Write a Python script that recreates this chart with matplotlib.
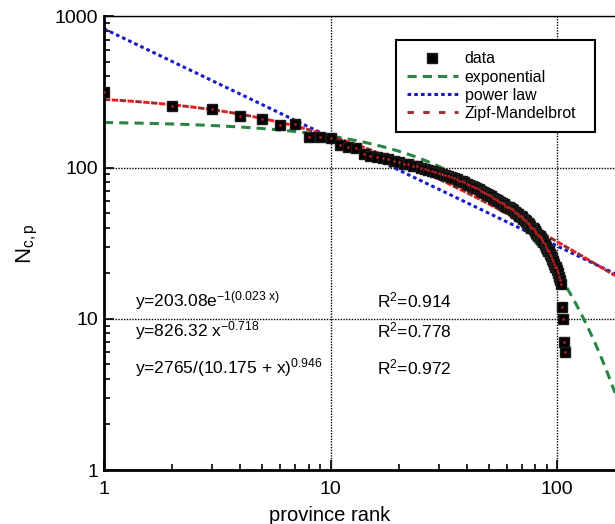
import numpy as np
import matplotlib
matplotlib.use('Agg')
import matplotlib.pyplot as plt

plt.rcParams['font.family'] = ['Liberation Sans', 'DejaVu Sans']
plt.rcParams['mathtext.fontset'] = 'custom'
plt.rcParams['mathtext.rm'] = 'Liberation Sans'
plt.rcParams['mathtext.it'] = 'Liberation Sans:italic'

# ── data ─────────────────────────────────────────────────
counts = [315, 255, 242, 219, 208, 192, 193, 160, 160, 156,
          141, 137, 134, 122, 120, 118, 116, 114, 111, 108,
          106, 105, 103, 102, 100, 98, 96, 95, 93, 92,
          90, 89, 88, 86, 85, 84, 82, 81, 80, 78,
          77, 75, 74, 73, 72, 70, 69, 68, 67, 66,
          65, 63, 62, 61, 60, 59, 58, 57, 56, 55,
          55, 54, 53, 52, 51, 50, 49, 48, 48, 47,
          46, 45, 44, 43, 42, 41, 40, 40, 39, 38,
          37, 36, 35, 35, 34, 33, 32, 31, 30, 29,
          28, 28, 27, 26, 25, 24, 23, 22, 22, 21,
          20, 19, 18, 17, 12, 10, 7, 6]
ranks = np.arange(1, len(counts) + 1)

# fitted model parameters (printed on the chart)
EXP_A, EXP_B = 203.08, 0.023
PL_A, PL_B = 826.32, 0.718
ZM_A, ZM_C, ZM_B = 2765.0, 10.175, 0.946

XMAX = 180
xs = np.logspace(0, np.log10(XMAX), 400)
y_exp = EXP_A * np.exp(-EXP_B * xs)
y_pl = PL_A * xs ** (-PL_B)
y_zm = ZM_A / (ZM_C + xs) ** ZM_B

# ── plot ─────────────────────────────────────────────────
fig = plt.figure(figsize=(6.15, 5.24), dpi=100)
ax = fig.add_axes([0.169, 0.103, 0.831, 0.866])
ax.set_xscale('log')
ax.set_yscale('log')

green = '#2a8544'
blue = '#1a1ac8'
brown = '#9c2e2e'

l_exp, = ax.plot(xs, y_exp, color=green, lw=2.2, ls=(0, (3, 2)), label='exponential')
l_pl, = ax.plot(xs, y_pl, color=blue, lw=2.2, ls=(0, (1.2, 1)), label='power law')
l_zm, = ax.plot(xs, y_zm, color=brown, lw=2.1, ls=(0, (2.2, 3.2)), label='Zipf-Mandelbrot')
ax.plot(xs, y_zm, color='#ee1c1c', lw=2.1, ls=(2.7, (2.2, 3.2)))

l_dat, = ax.plot(ranks, counts, ls='none', marker='s', ms=6.5,
                 color='black', mec='#1a1a1a', label='data', zorder=5)
ax.plot(ranks, counts, ls='none', marker='.', ms=2, color='#b02020', zorder=6)

ax.set_xlim(1, XMAX)
ax.set_ylim(1, 1000)

ax.set_xticks([1, 10, 100])
ax.set_xticklabels(['1', '10', '100'])
ax.set_yticks([1, 10, 100, 1000])
ax.set_yticklabels(['1', '10', '100', '1000'])
ax.tick_params(which='both', direction='in', labelsize=14, width=1.2)
ax.tick_params(which='major', length=7)
ax.tick_params(which='minor', length=4)
ax.tick_params(axis='x', pad=8)
ax.tick_params(axis='y', pad=4)

ax.grid(True, which='major', color='black', ls=(0, (1, 1)), lw=1)
ax.spines['right'].set_visible(False)
ax.spines['top'].set_linewidth(1)
ax.spines['left'].set_linewidth(2)
ax.spines['bottom'].set_linewidth(2)

ax.set_xlabel('province rank', fontsize=14.5)
ax.xaxis.set_label_coords(0.442, -0.08)
ax.set_ylabel(r'N$_{\mathrm{c,p}}$', fontsize=16)
ax.yaxis.set_label_coords(-0.125, 0.5)

# fit formulas
fs = 12.5
ax.text(0.061, 0.374, r'y=203.08e$^{\mathrm{-1(0.023\ x)}}$', transform=ax.transAxes,
        fontsize=fs, va='center')
ax.text(0.061, 0.308, r'y=826.32 x$^{\mathrm{-0.718}}$', transform=ax.transAxes,
        fontsize=fs, va='center')
ax.text(0.061, 0.225, r'y=2765/(10.175 + x)$^{\mathrm{0.946}}$', transform=ax.transAxes,
        fontsize=fs, va='center')
ax.text(0.535, 0.374, r'R$^{\mathrm{2}}$=0.914', transform=ax.transAxes, fontsize=fs, va='center')
ax.text(0.535, 0.308, r'R$^{\mathrm{2}}$=0.778', transform=ax.transAxes, fontsize=fs, va='center')
ax.text(0.535, 0.225, r'R$^{\mathrm{2}}$=0.972', transform=ax.transAxes, fontsize=fs, va='center')

leg = ax.legend(handles=[l_dat, l_exp, l_pl, l_zm], loc='upper left',
                bbox_to_anchor=(0.571, 0.5, 0.389, 0.447), mode='expand',
                borderaxespad=0, fontsize=11.4, handlelength=3.2, labelspacing=0.2,
                fancybox=False, framealpha=1, edgecolor='black',
                borderpad=0.7, handletextpad=0.45)
leg.get_frame().set_linewidth(1.5)

plt.savefig('out.png', dpi=100)
